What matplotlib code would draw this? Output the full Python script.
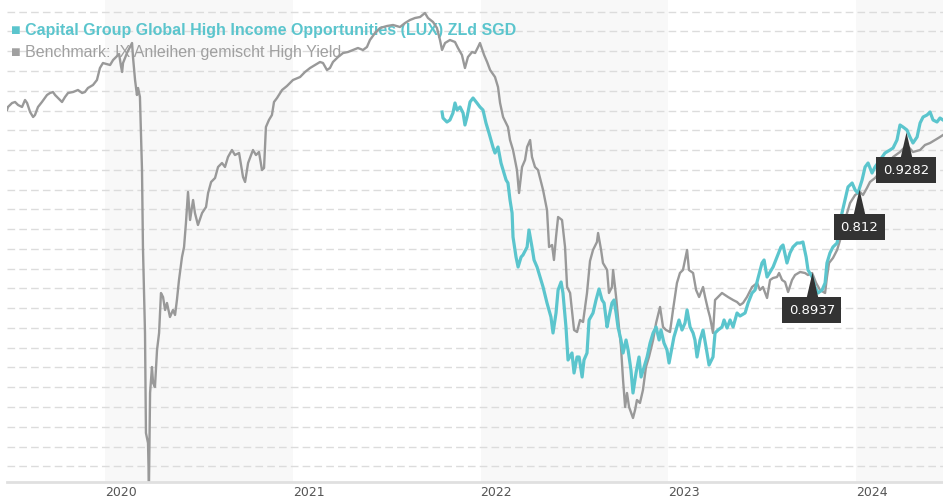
import matplotlib
matplotlib.use("Agg")
import matplotlib.pyplot as plt
import numpy as np

# decimal years / index levels
bench_years = [
    2019.478, 2019.483, 2019.505, 2019.521, 2019.537, 2019.558, 2019.574, 2019.585, 2019.601, 2019.617,
    2019.627, 2019.643, 2019.664, 2019.691, 2019.707, 2019.723, 2019.734, 2019.750, 2019.771, 2019.787,
    2019.803, 2019.830, 2019.856, 2019.878, 2019.893, 2019.909, 2019.936, 2019.957, 2019.973, 2019.989,
    2020.027, 2020.043, 2020.064, 2020.075, 2020.085, 2020.091, 2020.096, 2020.117, 2020.144, 2020.149,
    2020.160, 2020.170, 2020.176, 2020.186, 2020.197, 2020.202, 2020.213, 2020.218, 2020.229, 2020.234,
    2020.240, 2020.250, 2020.256, 2020.266, 2020.277, 2020.288, 2020.298, 2020.309, 2020.320, 2020.330,
    2020.346, 2020.362, 2020.373, 2020.383, 2020.394, 2020.410, 2020.421, 2020.431, 2020.442, 2020.453,
    2020.469, 2020.479, 2020.495, 2020.517, 2020.538, 2020.549, 2020.565, 2020.586, 2020.602, 2020.623,
    2020.639, 2020.655, 2020.676, 2020.692, 2020.714, 2020.735, 2020.746, 2020.762, 2020.788, 2020.804,
    2020.820, 2020.836, 2020.847, 2020.857, 2020.873, 2020.889, 2020.900, 2020.916, 2020.943, 2020.969,
    2021.001, 2021.039, 2021.065, 2021.092, 2021.118, 2021.145, 2021.161, 2021.182, 2021.198, 2021.214,
    2021.241, 2021.268, 2021.294, 2021.321, 2021.347, 2021.374, 2021.395, 2021.411, 2021.438, 2021.465,
    2021.502, 2021.534, 2021.571, 2021.598, 2021.624, 2021.651, 2021.678, 2021.704, 2021.720, 2021.747,
    2021.768, 2021.784, 2021.795, 2021.811, 2021.837, 2021.864, 2021.880, 2021.901, 2021.917, 2021.933,
    2021.955, 2021.971, 2021.987, 2021.997, 2022.019, 2022.035, 2022.051, 2022.077, 2022.093, 2022.104,
    2022.120, 2022.146, 2022.157, 2022.173, 2022.194, 2022.205, 2022.221, 2022.237, 2022.248, 2022.264,
    2022.274, 2022.290, 2022.306, 2022.333, 2022.354, 2022.365, 2022.381, 2022.391, 2022.402, 2022.413,
    2022.434, 2022.450, 2022.461, 2022.477, 2022.498, 2022.514, 2022.530, 2022.546, 2022.567, 2022.583,
    2022.599, 2022.620, 2022.626, 2022.642, 2022.652, 2022.674, 2022.684, 2022.700, 2022.706, 2022.722,
    2022.732, 2022.748, 2022.759, 2022.770, 2022.780, 2022.791, 2022.812, 2022.823, 2022.833, 2022.849,
    2022.865, 2022.881, 2022.897, 2022.919, 2022.935, 2022.956, 2022.972, 2022.988, 2023.009, 2023.025,
    2023.046, 2023.062, 2023.078, 2023.100, 2023.110, 2023.132, 2023.148, 2023.164, 2023.185, 2023.196,
    2023.212, 2023.222, 2023.238, 2023.249, 2023.265, 2023.286, 2023.302, 2023.318, 2023.345, 2023.366,
    2023.382, 2023.398, 2023.419, 2023.446, 2023.473, 2023.488, 2023.504, 2023.526, 2023.542, 2023.558,
    2023.579, 2023.590, 2023.606, 2023.622, 2023.638, 2023.659, 2023.675, 2023.702, 2023.728, 2023.744,
    2023.766, 2023.787, 2023.808, 2023.835, 2023.845, 2023.856, 2023.877, 2023.899, 2023.915, 2023.931,
    2023.952, 2023.968, 2023.995, 2024.021, 2024.037, 2024.058, 2024.074, 2024.101, 2024.128, 2024.165,
    2024.197, 2024.234, 2024.271, 2024.303, 2024.341, 2024.367, 2024.394, 2024.421, 2024.447, 2024.463,
]
bench_vals = [
    390, 393, 397, 398, 395, 393, 400, 397, 388, 383,
    385, 393, 398, 405, 407, 408, 405, 402, 398, 403,
    407, 408, 410, 407, 408, 412, 415, 420, 432, 437,
    435, 440, 444, 446, 434, 428, 437, 447, 457, 443,
    420, 405, 412, 403, 330, 253, 167, 67, 57, 14,
    107, 133, 117, 113, 150, 167, 207, 203, 190, 197,
    183, 190, 185, 200, 220, 243, 253, 277, 308, 280,
    300, 287, 275, 287, 293, 307, 318, 322, 333, 337,
    333, 343, 350, 345, 347, 323, 318, 337, 350, 345,
    348, 330, 332, 373, 380, 385, 398, 402, 410, 414,
    420, 423, 428, 432, 435, 438, 437, 430, 432, 438,
    443, 447, 448, 450, 452, 450, 453, 460, 467, 472,
    474, 475, 473, 477, 480, 482, 483, 487, 482, 478,
    472, 460, 450, 457, 460, 458, 452, 445, 432, 443,
    448, 447, 453, 457, 445, 438, 430, 423, 413, 397,
    383, 373, 360, 350, 330, 307, 333, 340, 353, 360,
    343, 333, 330, 310, 290, 253, 255, 240, 263, 283,
    280, 253, 213, 207, 170, 168, 180, 178, 207, 239,
    250, 258, 267, 250, 237, 230, 207, 213, 230, 203,
    183, 153, 120, 93, 107, 93, 82, 90, 100, 97,
    110, 133, 143, 160, 177, 193, 173, 170, 168, 190,
    217, 227, 230, 250, 230, 227, 210, 203, 213, 203,
    190, 183, 167, 200, 203, 207, 205, 203, 200, 198,
    195, 197, 203, 213, 217, 210, 213, 202, 220, 222,
    223, 227, 220, 218, 208, 220, 225, 228, 227, 225,
    227, 217, 210, 207, 223, 237, 242, 250, 260, 273,
    287, 297, 305, 308, 305, 312, 318, 322, 328, 335,
    343, 348, 355, 348, 350, 355, 357, 360, 363, 365,
]

fund_years = [
    2021.795, 2021.800, 2021.821, 2021.837, 2021.853, 2021.864, 2021.875, 2021.891, 2021.907, 2021.917,
    2021.928, 2021.944, 2021.960, 2021.981, 2021.997, 2022.013, 2022.029, 2022.045, 2022.066, 2022.077,
    2022.093, 2022.109, 2022.120, 2022.136, 2022.146, 2022.157, 2022.168, 2022.173, 2022.189, 2022.200,
    2022.216, 2022.226, 2022.248, 2022.258, 2022.274, 2022.285, 2022.301, 2022.317, 2022.333, 2022.354,
    2022.375, 2022.386, 2022.402, 2022.413, 2022.429, 2022.439, 2022.455, 2022.466, 2022.487, 2022.498,
    2022.514, 2022.525, 2022.541, 2022.551, 2022.567, 2022.578, 2022.599, 2022.615, 2022.631, 2022.647,
    2022.658, 2022.674, 2022.684, 2022.700, 2022.711, 2022.722, 2022.732, 2022.748, 2022.759, 2022.775,
    2022.786, 2022.801, 2022.812, 2022.828, 2022.844, 2022.855, 2022.871, 2022.887, 2022.903, 2022.919,
    2022.935, 2022.951, 2022.961, 2022.977, 2022.993, 2023.004, 2023.020, 2023.030, 2023.046, 2023.057,
    2023.073, 2023.089, 2023.100, 2023.116, 2023.132, 2023.142, 2023.153, 2023.169, 2023.185, 2023.201,
    2023.217, 2023.238, 2023.249, 2023.265, 2023.286, 2023.297, 2023.313, 2023.329, 2023.345, 2023.366,
    2023.382, 2023.409, 2023.425, 2023.446, 2023.462, 2023.478, 2023.499, 2023.510, 2023.526, 2023.542,
    2023.558, 2023.579, 2023.600, 2023.611, 2023.632, 2023.648, 2023.664, 2023.686, 2023.702, 2023.717,
    2023.734, 2023.744, 2023.766, 2023.781, 2023.797, 2023.819, 2023.835, 2023.845, 2023.861, 2023.877,
    2023.899, 2023.909, 2023.925, 2023.941, 2023.957, 2023.979, 2023.995, 2024.010, 2024.032, 2024.048,
    2024.064, 2024.085, 2024.101, 2024.128, 2024.154, 2024.181, 2024.197, 2024.218, 2024.234, 2024.250,
    2024.271, 2024.287, 2024.303, 2024.325, 2024.341, 2024.357, 2024.378, 2024.394, 2024.410, 2024.431,
    2024.447, 2024.463,
]
fund_vals = [
    388, 382, 378, 380, 387, 397, 390, 393, 387, 375,
    383, 398, 402, 397, 393, 390, 377, 367, 353, 347,
    353, 337, 330, 320, 317, 300, 287, 263, 243, 233,
    243, 245, 253, 270, 253, 240, 233, 223, 213, 197,
    183, 167, 187, 210, 218, 207, 173, 140, 147, 127,
    143, 143, 123, 140, 147, 180, 187, 200, 211, 200,
    197, 173, 183, 197, 200, 187, 173, 160, 147, 160,
    150, 130, 107, 127, 143, 123, 133, 143, 157, 167,
    173, 160, 170, 157, 150, 137, 153, 163, 173, 180,
    170, 177, 190, 173, 167, 160, 143, 160, 170, 153,
    135, 143, 167, 170, 173, 180, 172, 180, 173, 187,
    184, 187, 197, 207, 210, 222, 237, 240, 223, 228,
    233, 243, 253, 255, 237, 247, 253, 257, 257, 258,
    243, 230, 223, 213, 207, 210, 217, 237, 247, 253,
    257, 270, 287, 300, 313, 317, 310, 307, 320, 333,
    337, 327, 333, 340, 347, 350, 352, 360, 375, 373,
    370, 363, 357, 363, 377, 383, 385, 388, 380, 378,
    382, 380,
]

# distribution markers
div_years = [2023.764, 2024.016, 2024.265]
div_vals = [228, 311, 368]
div_labels = ["0.8937", "0.812", "0.9282"]

year_ticks = [2020, 2021, 2022, 2023, 2024]
shaded_years = [2020, 2022, 2024]

fund_name = "Capital Group Global High Income Opportunities (LUX) ZLd SGD"
bench_name = "Benchmark: IX Anleihen gemischt High Yield"

TEAL = "#5bc5cd"
GREY = "#999999"

plt.rcParams["lines.scale_dashes"] = False
sans = ["Liberation Sans", "DejaVu Sans"]

fig = plt.figure(figsize=(9.43, 5.0), dpi=100)
ax = fig.add_axes([7 / 943, 18.3 / 500, 936 / 943, 481.7 / 500])
ax.set_xlim(2019.478, 2024.463)
ax.set_ylim(18.3, 500)

for yr in shaded_years:
    ax.axvspan(yr, yr + 1, color="#f8f8f8", lw=0, zorder=0)

for g in np.linspace(33.7, 488.3, 24):
    ax.axhline(g, color="#dcdcdc", lw=1.0, ls=(0, (5.5, 3.0)), zorder=0.5)

ax.plot(bench_years, bench_vals, color=GREY, lw=1.7, zorder=2, solid_joinstyle="round")
ax.plot(fund_years, fund_vals, color=TEAL, lw=2.3, zorder=3, solid_joinstyle="round")

# legend text sits under the lines
ax.text(11 / 943, 1 - 30 / 500, "\u25a0 " + fund_name, transform=fig.transFigure,
        color=TEAL, fontsize=11.5, fontweight="bold", family=sans, va="center", zorder=1)
ax.text(11 / 943, 1 - 52 / 500, "\u25a0 " + bench_name, transform=fig.transFigure,
        color="#a0a0a0", fontsize=11.5, family=sans, va="center", zorder=1)

# distribution tooltips
spike = [(-6, -26), (6, -26), (0, 0)]
for x, v, lab in zip(div_years, div_vals, div_labels):
    ax.plot([x], [v], marker=spike, markersize=37, color="#333333", mec="none", zorder=5)
    ax.annotate(lab, (x, v), xytext=(0, -38), textcoords="offset pixels",
                ha="center", va="center", color="white", fontsize=9.5, family="DejaVu Sans",
                bbox=dict(boxstyle="square,pad=0.5", fc="#333333", ec="none"), zorder=6)

ax.set_yticks([])
ax.set_xticks(year_ticks)
ax.set_xticklabels([str(y) for y in year_ticks], ha="left", family="DejaVu Sans",
                   fontsize=9, color="#555555")
ax.tick_params(axis="x", length=0, pad=3)
for s in ["top", "left", "right"]:
    ax.spines[s].set_visible(False)
ax.spines["bottom"].set_color("#e0e0e0")
ax.spines["bottom"].set_linewidth(2)

fig.savefig("out.png", dpi=100)
